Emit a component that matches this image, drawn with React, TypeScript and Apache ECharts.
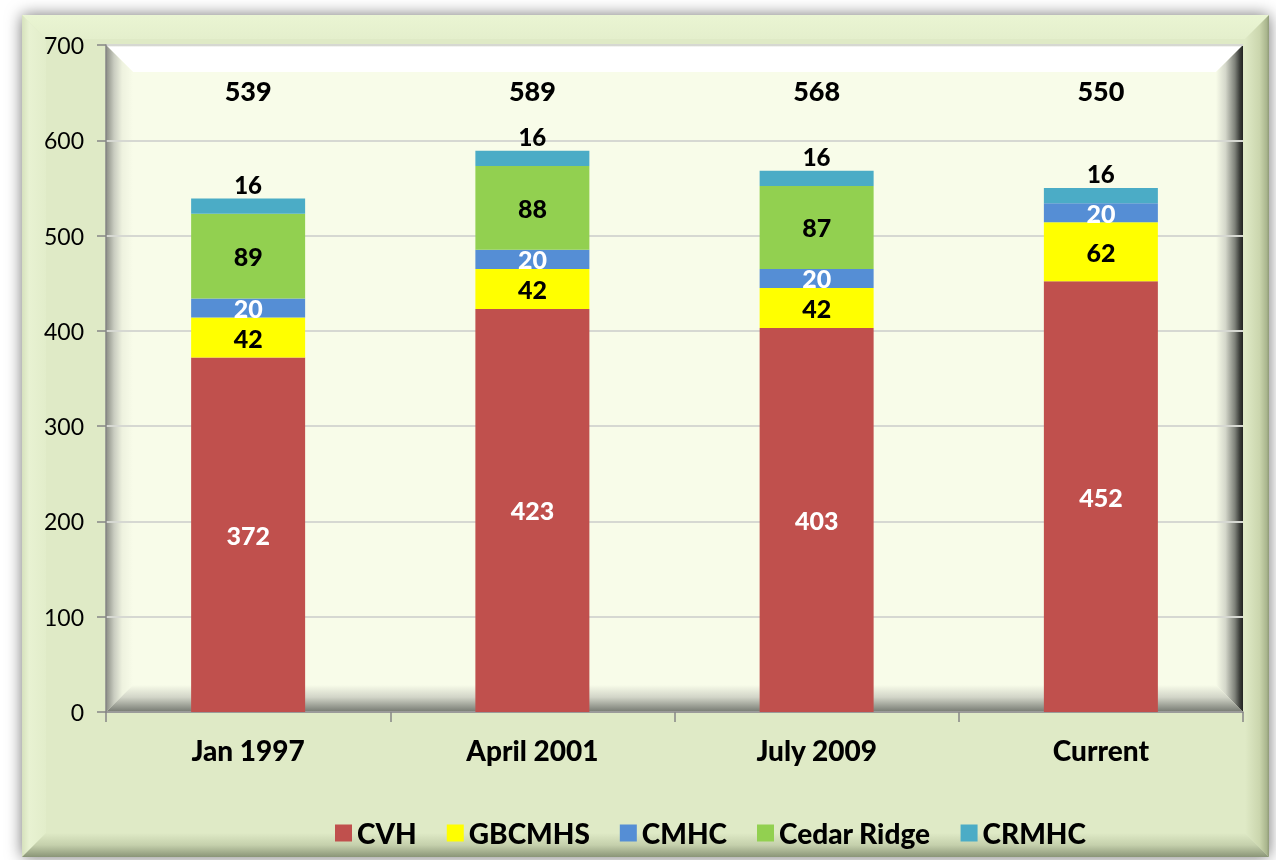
import React, { useEffect, useRef } from "react";
import * as echarts from "echarts";

const categories = ["Jan 1997", "April 2001", "July 2009", "Current"];
const cvh = [372, 423, 403, 452];
const gbcmhs = [42, 42, 42, 62];
const cmhc = [20, 20, 20, 20];
const cedarRidge = [89, 88, 87, 0];
const crmhc = [16, 16, 16, 16];
const totals = [539, 589, 568, 550];
const yTicks = { min: 0, max: 700, interval: 100 };

const FONT = "Lato, 'Noto Sans', sans-serif";
const BOLD = 900;
const TOTAL_LABEL_LEVEL = 652;

const PANEL = "#dfeac6";
const PLOT_BG = "#f8fce9";

function lg(x1: number, y1: number, x2: number, y2: number, stops: [number, string][]) {
  return new echarts.graphic.LinearGradient(
    x1, y1, x2, y2,
    stops.map(([offset, color]) => ({ offset, color }))
  );
}

export default function App() {
  const ref = useRef<HTMLDivElement>(null);

  useEffect(() => {
    if (!ref.current) return;
    const chart = echarts.init(ref.current, undefined, { renderer: "svg" });

    const L = 106, T = 45, R = 1243, B = 712, bw = 27;
    const PL = 22, PT = 15, PR = 1269, PB = 857, pw = 24;

    const segLabel = (color: string, size = 25) => ({
      show: true,
      position: "inside" as const,
      color,
      fontFamily: FONT,
      fontWeight: BOLD,
      fontSize: size,
      formatter: (p: any) => (p.value ? String(p.value) : ""),
    });

    const barBase = {
      type: "bar" as const,
      stack: "total",
      barWidth: 114,
      emphasis: { disabled: true },
    };

    const option: any = {
      animation: false,
      textStyle: { fontFamily: FONT },
      graphic: [
        { type: "rect", z: -10, shape: { x: 0, y: 0, width: 1276, height: 860 }, style: { fill: "#ffffff" } },
        {
          type: "rect", z: -9,
          shape: { x: PL, y: PT, width: PR - PL, height: PB - PT },
          style: { fill: PANEL, shadowBlur: 16, shadowColor: "rgba(0,0,0,0.55)", shadowOffsetX: 0, shadowOffsetY: 0 },
        },
        {
          type: "polygon", z: -8,
          shape: { points: [[PL, PT], [PR, PT], [PR - pw, PT + pw], [PL + pw, PT + pw]] },
          style: { fill: lg(0, 0, 0, 1, [[0, "#eaf5d3"], [1, "#e4efcc"]]) },
        },
        {
          type: "polygon", z: -8,
          shape: { points: [[PL, PT], [PL + pw, PT + pw], [PL + pw, PB - pw], [PL, PB]] },
          style: { fill: lg(0, 0, 1, 0, [[0, "#d6e1bd"], [0.3, "#e8f2d2"], [1, "#e2edca"]]) },
        },
        {
          type: "polygon", z: -8,
          shape: { points: [[PR, PT], [PR, PB], [PR - pw, PB - pw], [PR - pw, PT + pw]] },
          style: { fill: lg(0, 0, 1, 0, [[0, PANEL], [0.6, "#cbd6ae"], [0.9, "#aab68e"], [1, "#8f9a78"]]) },
        },
        {
          type: "polygon", z: -8,
          shape: { points: [[PL, PB], [PR, PB], [PR - pw, PB - pw], [PL + pw, PB - pw]] },
          style: { fill: lg(0, 0, 0, 1, [[0, PANEL], [0.5, "#c5d0ac"], [1, "#8a9577"]]) },
        },
        { type: "rect", z: -7, shape: { x: L, y: T, width: R - L, height: B - T }, style: { fill: PLOT_BG } },
        {
          type: "polygon", z: -6,
          shape: { points: [[L, T], [R, T], [R - bw, T + bw], [L + bw, T + bw]] },
          style: { fill: lg(0, 0, 0, 1, [[0, "#d4d6cc"], [0.08, "#ffffff"], [1, "#ffffff"]]) },
        },
        {
          type: "polygon", z: -6,
          shape: { points: [[L, T], [L + bw, T + bw], [L + bw, B - bw], [L, B]] },
          style: { fill: lg(0, 0, 1, 0, [[0, "#8a8d84"], [0.3, "#c9ccc0"], [0.6, "#eef2df"], [1, PLOT_BG]]) },
        },
        {
          type: "polygon", z: -6,
          shape: { points: [[R, T], [R, B], [R - bw, B - bw], [R - bw, T + bw]] },
          style: { fill: lg(0, 0, 1, 0, [[0, PLOT_BG], [0.35, "#d4d7ca"], [0.7, "#7e8179"], [0.88, "#3c3e3a"], [1, "#222422"]]) },
        },
        {
          type: "polygon", z: -6,
          shape: { points: [[L, B], [R, B], [R - bw, B - bw], [L + bw, B - bw]] },
          style: { fill: lg(0, 0, 0, 1, [[0, PLOT_BG], [0.45, "#d2d5c8"], [1, "#757971"]]) },
        },
      ],
      grid: { left: L, right: 1276 - R, top: T, bottom: 860 - B, containLabel: false },
      legend: {
        left: 330,
        top: 814,
        itemWidth: 17,
        itemHeight: 17,
        itemGap: 30,
        icon: "rect",
        textStyle: { fontFamily: FONT, fontWeight: BOLD, fontSize: 28, color: "#000" },
        data: ["CVH", "GBCMHS", "CMHC", "Cedar Ridge", "CRMHC"],
      },
      xAxis: {
        type: "category",
        data: categories,
        axisLine: { show: true, lineStyle: { color: "#868686", width: 1.5 } },
        axisTick: { show: true, length: 10, lineStyle: { color: "#868686", width: 1.5 } },
        axisLabel: { fontFamily: FONT, fontWeight: BOLD, fontSize: 28, color: "#000", margin: 24 },
      },
      yAxis: {
        type: "value",
        min: yTicks.min,
        max: yTicks.max,
        interval: yTicks.interval,
        axisLine: { show: true, lineStyle: { color: "#868686", width: 1.5 } },
        axisTick: { show: true, length: 9, lineStyle: { color: "#868686", width: 1.5 } },
        axisLabel: { fontFamily: FONT, fontSize: 23, color: "#000", margin: 22 },
        splitLine: { show: true, lineStyle: { color: "#d6d8d2", width: 2 } },
      },
      series: [
        { ...barBase, name: "CVH", data: cvh, itemStyle: { color: "#c0504d" }, label: segLabel("#ffffff") },
        { ...barBase, name: "GBCMHS", data: gbcmhs, itemStyle: { color: "#ffff00" }, label: segLabel("#000000") },
        { ...barBase, name: "CMHC", data: cmhc, itemStyle: { color: "#558ed5" }, label: segLabel("#ffffff") },
        { ...barBase, name: "Cedar Ridge", data: cedarRidge, itemStyle: { color: "#92d050" }, label: segLabel("#000000") },
        {
          ...barBase,
          name: "CRMHC",
          data: crmhc,
          itemStyle: { color: "#4bacc6" },
          label: { ...segLabel("#000000", 24), position: "top", distance: 2 },
        },
        {
          type: "scatter",
          name: "Total",
          symbolSize: 0,
          silent: true,
          itemStyle: { opacity: 1, color: "#000" },
          data: totals.map((t, i) => ({ value: [i, TOTAL_LABEL_LEVEL], total: t })),
          label: {
            show: true,
            position: "inside",
            fontFamily: FONT,
            fontWeight: BOLD,
            fontSize: 27,
            color: "#000000",
            opacity: 1,
            formatter: (p: any) => String(totals[p.dataIndex]),
          },
        },
      ],
    };

    chart.setOption(option);
    return () => chart.dispose();
  }, []);

  return (
    <div
      ref={ref}
      style={{ position: "fixed", left: 0, top: 0, width: 1276, height: 860 }}
    />
  );
}
